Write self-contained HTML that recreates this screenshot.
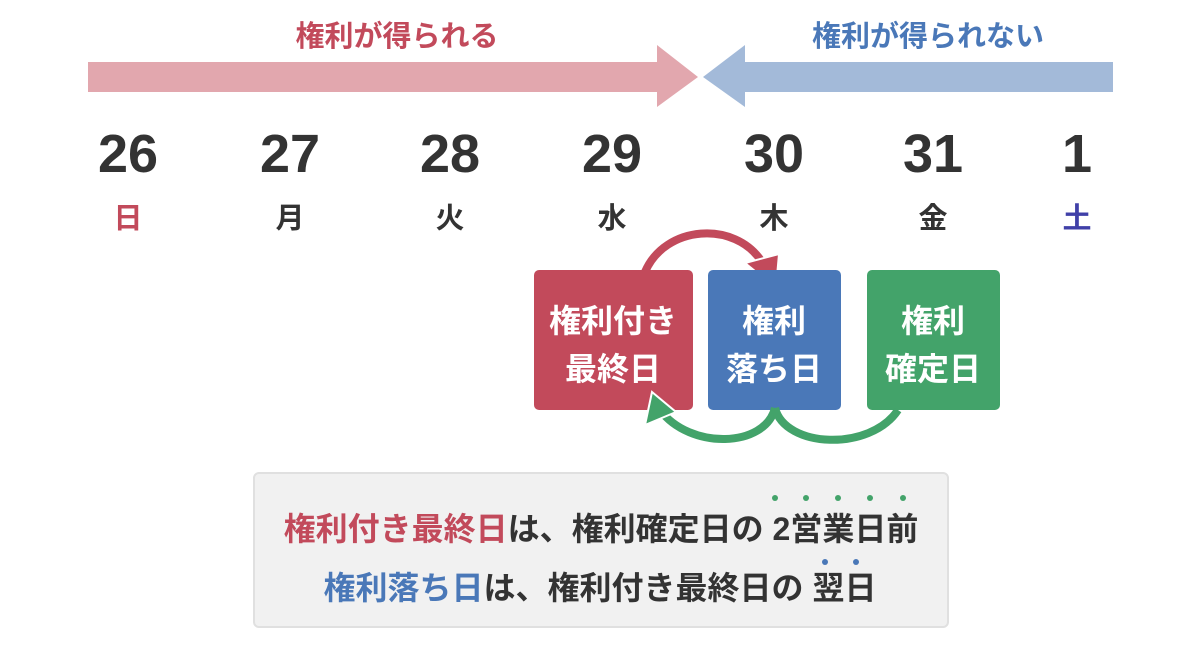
<!DOCTYPE html>
<html><head><meta charset="utf-8"><style>
body{margin:0;background:#fff;}
svg text{font-family:"Liberation Sans","Noto Sans CJK JP",sans-serif;font-weight:bold;}
</style></head><body>
<svg width="1200" height="650" viewBox="0 0 1200 650" xmlns="http://www.w3.org/2000/svg">
<text x="397" y="46" font-size="29" fill="#c24a5b" text-anchor="middle">権利が得られる</text>
<text x="928" y="46" font-size="29" fill="#4a78b8" text-anchor="middle">権利が得られない</text>
<polygon points="88,62 657,62 657,45 698,77 657,107 657,92 88,92" fill="#e2a7ae"/>
<polygon points="1113,62 745,62 745,45 703,77 745,107 745,92 1113,92" fill="#a3bad9"/>
<g font-size="54" fill="#333" text-anchor="middle">
<text x="128" y="172">26</text><text x="290" y="172">27</text><text x="450" y="172">28</text><text x="612" y="172">29</text><text x="774" y="172">30</text><text x="933" y="172">31</text><text x="1077" y="172">1</text>
</g>
<g font-size="29" fill="#333" text-anchor="middle">
<text x="128" y="228" fill="#c24a5b">日</text><text x="290" y="228">月</text><text x="450" y="228">火</text><text x="612" y="228">水</text><text x="774" y="228">木</text><text x="933" y="228">金</text><text x="1077" y="228" fill="#4040a8">土</text>
</g>
<path d="M645,272 C665,225 735,220 762,262" fill="none" stroke="#c24a5b" stroke-width="8"/>
<polygon points="745,263 779,254 776,288" fill="#c24a5b" stroke="#fff" stroke-width="2"/>
<rect x="534" y="270" width="159" height="140" rx="5" fill="#c24a5b"/>
<rect x="708" y="270" width="133" height="140" rx="5" fill="#4a78b8"/>
<rect x="867" y="270" width="133" height="140" rx="5" fill="#43a36a"/>
<g font-size="32" fill="#fff" text-anchor="middle">
<text x="613" y="332">権利付き</text><text x="613" y="380">最終日</text>
<text x="774" y="332">権利</text><text x="774" y="380">落ち日</text>
<text x="933" y="332">権利</text><text x="933" y="380">確定日</text>
</g>
<path d="M775,408 C765,448 690,450 660,410" fill="none" stroke="#43a36a" stroke-width="8"/>
<path d="M775,408 C785,448 870,452 898,410" fill="none" stroke="#43a36a" stroke-width="8"/>
<polygon points="652,392 676,412 645,425" fill="#43a36a" stroke="#fff" stroke-width="2"/>
<rect x="254" y="473" width="694" height="154" rx="5" fill="#f1f1f1" stroke="#e0e0e0" stroke-width="2"/>
<text x="601" y="540" font-size="32" fill="#333" text-anchor="middle"><tspan fill="#c24a5b">権利付き最終日</tspan>は、権利確定日の 2営業日前</text>
<text x="600" y="599" font-size="32" fill="#333" text-anchor="middle"><tspan fill="#4a78b8">権利落ち日</tspan>は、権利付き最終日の 翌日</text>
<g fill="#43a36a"><circle cx="775" cy="498" r="3"/><circle cx="806" cy="498" r="3"/><circle cx="838" cy="498" r="3"/><circle cx="870" cy="498" r="3"/><circle cx="903" cy="498" r="3"/></g>
<g fill="#4a78b8"><circle cx="825" cy="562" r="3"/><circle cx="856" cy="562" r="3"/></g>
</svg>
</body></html>
